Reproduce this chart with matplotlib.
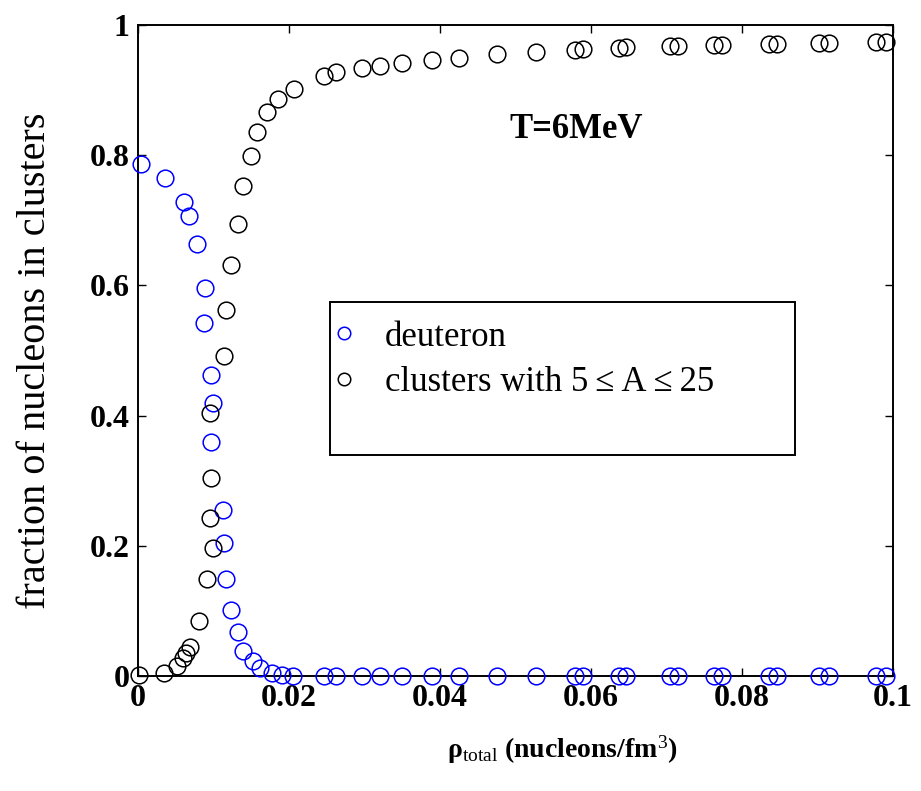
import matplotlib
matplotlib.use("Agg")
import matplotlib.pyplot as plt
from matplotlib.patches import Rectangle
from matplotlib.lines import Line2D
from matplotlib.ticker import FuncFormatter

plt.rcParams['font.family'] = ['Liberation Serif', 'DejaVu Serif']
plt.rcParams['mathtext.fontset'] = 'custom'
plt.rcParams['mathtext.rm'] = 'Liberation Serif'
plt.rcParams['mathtext.it'] = 'Liberation Serif:italic'
plt.rcParams['mathtext.bf'] = 'Liberation Serif:bold'

# deuteron fraction
deut_x = [0.0004, 0.0036, 0.0061, 0.0067, 0.0078, 0.0089, 0.0088, 0.0097, 0.0099, 0.0097,
          0.0112, 0.0114, 0.0116, 0.0123, 0.0133, 0.0139, 0.0152, 0.0161, 0.0177, 0.0191,
          0.0205, 0.0246, 0.0262, 0.0297, 0.0321, 0.0350, 0.0390, 0.0425, 0.0476, 0.0527,
          0.0579, 0.0590, 0.0637, 0.0647, 0.0704, 0.0715, 0.0763, 0.0774, 0.0836, 0.0846,
          0.0902, 0.0915, 0.0977, 0.0991]
deut_y = [0.787, 0.765, 0.728, 0.706, 0.663, 0.596, 0.542, 0.462, 0.420, 0.360,
          0.255, 0.204, 0.149, 0.102, 0.068, 0.039, 0.023, 0.012, 0.004, 0.001,
          0.0, 0.0, 0.0, 0.0, 0.0, 0.0, 0.0, 0.0, 0.0, 0.0,
          0.0, 0.0, 0.0, 0.0, 0.0, 0.0, 0.0, 0.0, 0.0, 0.0,
          0.0, 0.0, 0.0, 0.0]

# clusters with 5<=A<=25
clus_x = [0.0002, 0.0034, 0.0052, 0.0059, 0.0063, 0.0069, 0.0081, 0.0092, 0.0100, 0.0095,
          0.0097, 0.0095, 0.0114, 0.0117, 0.0123, 0.0133, 0.0139, 0.0150, 0.0157, 0.0171,
          0.0186, 0.0206, 0.0246, 0.0262, 0.0297, 0.0321, 0.0350, 0.0390, 0.0425, 0.0476,
          0.0527, 0.0579, 0.0590, 0.0637, 0.0647, 0.0704, 0.0715, 0.0763, 0.0774, 0.0836,
          0.0846, 0.0902, 0.0915, 0.0977, 0.0991]
clus_y = [0.001, 0.004, 0.015, 0.027, 0.035, 0.044, 0.084, 0.149, 0.197, 0.243,
          0.304, 0.404, 0.492, 0.562, 0.632, 0.694, 0.752, 0.798, 0.836, 0.867,
          0.887, 0.902, 0.922, 0.928, 0.934, 0.937, 0.941, 0.946, 0.950, 0.955,
          0.959, 0.962, 0.963, 0.965, 0.966, 0.967, 0.968, 0.969, 0.969, 0.971,
          0.971, 0.972, 0.973, 0.974, 0.974]

x_ticks = [0, 0.02, 0.04, 0.06, 0.08, 0.1]
y_ticks = [0, 0.2, 0.4, 0.6, 0.8, 1]
labels = ['deuteron', 'clusters with 5\u2009\u2264\u2009A\u2009\u2264\u200925']

fig = plt.figure(figsize=(9.21, 7.91), dpi=100)
ax = fig.add_axes([0.1498, 0.1454, 0.8198, 0.823])

ms = 12
ax.plot(deut_x, deut_y, 'o', mfc='none', mec='#0000ff', mew=1.1, ms=ms, clip_on=False, zorder=4)
ax.plot(clus_x, clus_y, 'o', mfc='none', mec='black', mew=1.1, ms=ms, clip_on=False, zorder=4)

ax.set_xlim(0, 0.1)
ax.set_ylim(0, 1)
ax.set_xticks(x_ticks)
ax.set_yticks(y_ticks)
fmt = FuncFormatter(lambda v, p: ('%g' % v))
ax.xaxis.set_major_formatter(fmt)
ax.yaxis.set_major_formatter(fmt)
ax.tick_params(direction='in', length=6, width=1, top=True, right=True,
               labelsize=23, pad=6)
for lab in ax.get_yticklabels() + ax.get_xticklabels():
    lab.set_fontweight('bold')
for s in ax.spines.values():
    s.set_linewidth(1.4)

ax.set_ylabel('fraction of nucleons in clusters', fontsize=29)
ax.yaxis.set_label_coords(-0.111, 0.485)
ax.set_xlabel('\u03c1$_{\\rm total}$ (nucleons/fm$^{\\rm 3}$)', fontsize=20, fontweight='bold')
ax.xaxis.set_label_coords(0.562, -0.088)

ax.text(0.0581, 0.84, 'T=6MeV', fontsize=25, fontweight='bold', ha='center', va='center')

# legend frame
rect = Rectangle((0.254, 0.339), 0.616, 0.235, transform=ax.transAxes,
                 fill=False, edgecolor='black', lw=1.4, zorder=3)
ax.add_patch(rect)
handles = [Line2D([], [], ls='none', marker='o', mfc='none', mec='#0000ff', ms=9, mew=1.1),
           Line2D([], [], ls='none', marker='o', mfc='none', mec='black', ms=9, mew=1.1)]
ax.legend(handles, labels, loc='upper left', bbox_to_anchor=(0.2585, 0.546),
          frameon=False, fontsize=25, handletextpad=0.9, labelspacing=0.35,
          handlelength=0.6, borderaxespad=0, borderpad=0)

fig.savefig('out.png', dpi=100)
